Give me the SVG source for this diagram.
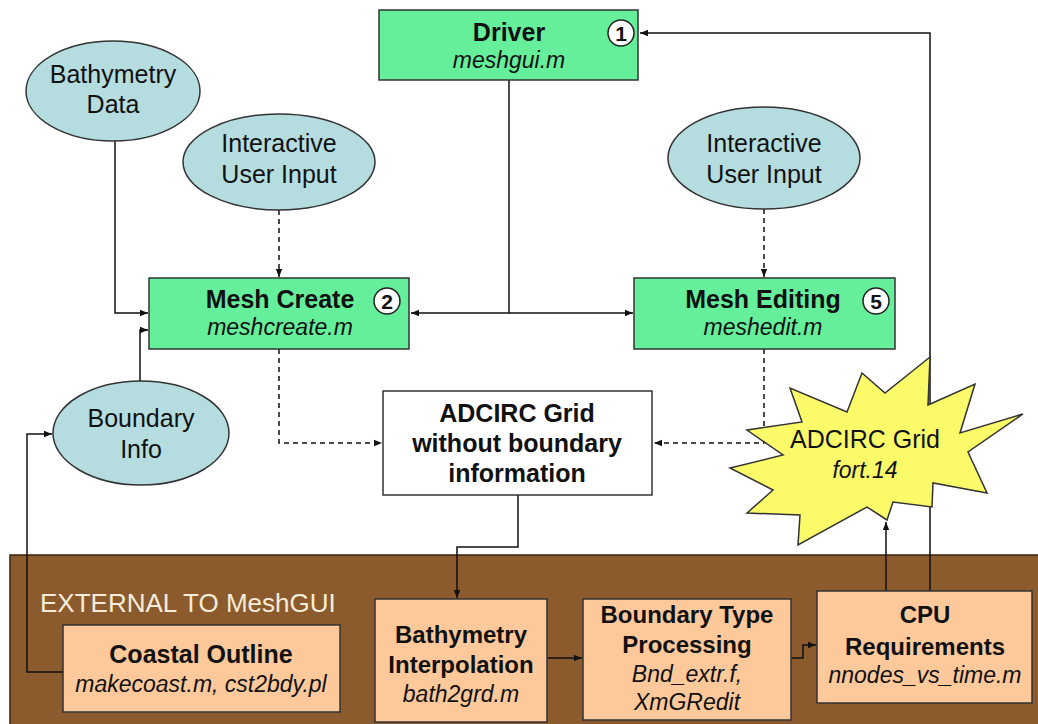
<svg xmlns="http://www.w3.org/2000/svg" width="1038" height="724" viewBox="0 0 1038 724">
<defs>
<marker id="ah" viewBox="0 0 10 10" refX="10" refY="5" markerWidth="8" markerHeight="8" markerUnits="userSpaceOnUse" orient="auto">
<path d="M0,1 L10,5 L0,9 Z" fill="#111"/>
</marker>
</defs>
<style>
.t{font-family:"Liberation Sans",Arial,sans-serif;fill:#111;text-anchor:middle}
.b{font-weight:bold}
.i{font-style:italic}
.green{fill:#66ef9a;stroke:#333;stroke-width:1.5}
.ell{fill:#b5dde0;stroke:#333;stroke-width:1.5}
.peach{fill:#fdc99b;stroke:#333;stroke-width:1.5}
.num{fill:#fff;stroke:#222;stroke-width:1.5}
.c{fill:none;stroke:#111;stroke-width:1.5}
.d{fill:none;stroke:#111;stroke-width:1.5;stroke-dasharray:5,4}
</style>
<rect width="1038" height="724" fill="#fff"/>
<rect id="external" x="10" y="555" width="1040" height="180" fill="#8b5b2d" stroke="#3a2510" stroke-width="1.5"/>
<text class="t" x="40" y="612" style="text-anchor:start;fill:#f5ecd9;font-size:26px">EXTERNAL TO MeshGUI</text>
<g id="connectors">
<path class="c" d="M509,80 V313 H411" marker-end="url(#ah)"/>
<path class="c" d="M509,313 H633" marker-end="url(#ah)"/>
<path class="c" d="M115,140 V313 H148" marker-end="url(#ah)"/>
<path class="c" d="M140,382 V330 H148" marker-end="url(#ah)"/>
<path class="d" d="M279,210 V277" marker-end="url(#ah)"/>
<path class="d" d="M764,209 V277" marker-end="url(#ah)"/>
<path class="d" d="M279,349 V443 H382" marker-end="url(#ah)"/>
<path class="d" d="M764,349 V443 H654" marker-end="url(#ah)"/>
<path class="c" d="M63,672 H27 V434 H52" marker-end="url(#ah)"/>
<path class="c" d="M518,495 V547 H457 V598" marker-end="url(#ah)"/>
<path class="c" d="M547,658 H582" marker-end="url(#ah)"/>
<path class="c" d="M791,658 H803 V645 H816" marker-end="url(#ah)"/>
<path class="c" d="M930,591 V33 H640" marker-end="url(#ah)"/>
<path class="c" d="M886,591 V522" marker-end="url(#ah)"/>
</g>
<g id="driver">
<rect class="green" x="379" y="10" width="259" height="70"/>
<text class="t b" x="509" y="41" font-size="25">Driver</text>
<text class="t i" x="509" y="68" font-size="23">meshgui.m</text>
<circle class="num" cx="621" cy="33" r="13"/>
<text class="t b" x="621" y="41" font-size="21">1</text>
</g>
<g id="bathymetry-data">
<ellipse class="ell" cx="113" cy="91" rx="87" ry="50"/>
<text class="t" x="113" y="83" font-size="25">Bathymetry</text>
<text class="t" x="113" y="113" font-size="25">Data</text>
</g>
<g id="user-input-left">
<ellipse class="ell" cx="279" cy="162" rx="96" ry="48"/>
<text class="t" x="279" y="152" font-size="25">Interactive</text>
<text class="t" x="279" y="183" font-size="25">User Input</text>
</g>
<g id="user-input-right">
<ellipse class="ell" cx="764" cy="158" rx="96" ry="51"/>
<text class="t" x="764" y="152" font-size="25">Interactive</text>
<text class="t" x="764" y="183" font-size="25">User Input</text>
</g>
<g id="mesh-create">
<rect class="green" x="149" y="278" width="260" height="71"/>
<text class="t b" x="280" y="308" font-size="25">Mesh Create</text>
<text class="t i" x="280" y="335" font-size="23">meshcreate.m</text>
<circle class="num" cx="387" cy="301" r="13"/>
<text class="t b" x="387" y="309" font-size="21">2</text>
</g>
<g id="mesh-editing">
<rect class="green" x="634" y="278" width="261" height="71"/>
<text class="t b" x="763" y="308" font-size="25">Mesh Editing</text>
<text class="t i" x="763" y="335" font-size="23">meshedit.m</text>
<circle class="num" cx="876" cy="301" r="13"/>
<text class="t b" x="876" y="309" font-size="21">5</text>
</g>
<g id="boundary-info">
<ellipse class="ell" cx="141" cy="433" rx="88" ry="52"/>
<text class="t" x="141" y="427" font-size="25">Boundary</text>
<text class="t" x="141" y="458" font-size="25">Info</text>
</g>
<g id="grid-no-boundary">
<rect x="383" y="391" width="269" height="104" fill="#fff" stroke="#333" stroke-width="1.5"/>
<text class="t b" x="517" y="422" font-size="25">ADCIRC Grid</text>
<text class="t b" x="517" y="452" font-size="25">without boundary</text>
<text class="t b" x="517" y="482" font-size="25">information</text>
</g>
<g id="adcirc-grid">
<polygon points="930,357 928,405 975,384 960,433 1023,414 968,452 987,493 933,483 932,507 893,502 887,520 867,507 798,545 800,515 747,513 773,490 730,468 783,455 747,430 802,422 790,388 847,412 862,373 885,393" fill="#fbfb6a" stroke="#333" stroke-width="1.5" stroke-linejoin="miter"/>
<text class="t" x="865" y="448" font-size="25">ADCIRC Grid</text>
<text class="t i" x="865" y="478" font-size="23">fort.14</text>
</g>
<g id="coastal-outline">
<rect class="peach" x="63" y="625" width="277" height="87"/>
<text class="t b" x="201" y="663" font-size="25">Coastal Outline</text>
<text class="t i" x="201" y="692" font-size="23">makecoast.m, cst2bdy.pl</text>
</g>
<g id="bathymetry-interpolation">
<rect class="peach" x="375" y="599" width="172" height="123"/>
<text class="t b" x="461" y="643" font-size="24">Bathymetry</text>
<text class="t b" x="461" y="673" font-size="24">Interpolation</text>
<text class="t i" x="461" y="702" font-size="23">bath2grd.m</text>
</g>
<g id="boundary-type">
<rect class="peach" x="583" y="599" width="208" height="121"/>
<text class="t b" x="687" y="623" font-size="24">Boundary Type</text>
<text class="t b" x="687" y="653" font-size="24">Processing</text>
<text class="t i" x="687" y="682" font-size="23">Bnd_extr.f,</text>
<text class="t i" x="687" y="710" font-size="23">XmGRedit</text>
</g>
<g id="cpu">
<rect class="peach" x="817" y="591" width="215" height="112"/>
<text class="t b" x="925" y="623" font-size="24">CPU</text>
<text class="t b" x="925" y="655" font-size="24">Requirements</text>
<text class="t i" x="925" y="683" font-size="23">nnodes_vs_time.m</text>
</g>
</svg>
